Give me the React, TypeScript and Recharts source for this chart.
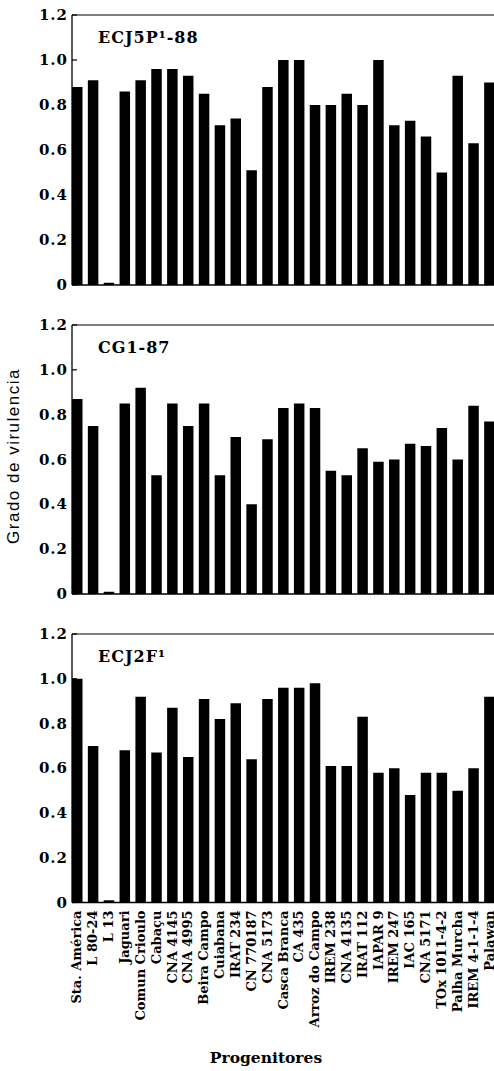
import { BarChart, Bar, XAxis, YAxis, ReferenceLine } from 'recharts';

const categories = [
  'Sta. América', 'L 80-24', 'L 13', 'Jaguari', 'Comun Crioulo', 'Cabaçu', 'CNA 4145',
  'CNA 4995', 'Beira Campo', 'Cuiabana', 'IRAT 234', 'CN 770187', 'CNA 5173', 'Casca Branca',
  'CA 435', 'Arroz do Campo', 'IREM 238', 'CNA 4135', 'IRAT 112', 'IAPAR 9', 'IREM 247',
  'IAC 165', 'CNA 5171', 'TOx 1011-4-2', 'Palha Murcha', 'IREM 4-1-1-4', 'Palawan',
];

const ecj5p88 = [
  0.88, 0.91, 0.01, 0.86, 0.91, 0.96, 0.96, 0.93, 0.85, 0.71, 0.74, 0.51, 0.88, 1.0,
  1.0, 0.8, 0.8, 0.85, 0.8, 1.0, 0.71, 0.73, 0.66, 0.5, 0.93, 0.63, 0.9,
];

const cg187 = [
  0.87, 0.75, 0.01, 0.85, 0.92, 0.53, 0.85, 0.75, 0.85, 0.53, 0.7, 0.4, 0.69, 0.83,
  0.85, 0.83, 0.55, 0.53, 0.65, 0.59, 0.6, 0.67, 0.66, 0.74, 0.6, 0.84, 0.77,
];

const ecj2f = [
  1.0, 0.7, 0.01, 0.68, 0.92, 0.67, 0.87, 0.65, 0.91, 0.82, 0.89, 0.64, 0.91, 0.96,
  0.96, 0.98, 0.61, 0.61, 0.83, 0.58, 0.6, 0.48, 0.58, 0.58, 0.5, 0.6, 0.92,
];

const yTicks = [0, 0.2, 0.4, 0.6, 0.8, 1.0, 1.2];

const SERIF = '"DejaVu Serif", serif';

const YTick = (props: any) => {
  const { x, y, payload } = props;
  const v = payload.value;
  return (
    <g>
      <text x={x} y={y} textAnchor="end" dominantBaseline="central" fontFamily={SERIF}
        fontWeight="bold" fontSize={15} letterSpacing={1} fill="#000">
        {v === 0 ? '0' : v.toFixed(1)}
      </text>
      <line x1={x + 4} x2={x + 9} y1={y} y2={y} stroke="#000" strokeWidth={1.2} />
    </g>
  );
};

const CatTick = (props: any) => {
  const { x, y, payload } = props;
  return (
    <text x={x} y={y + 8} transform={`rotate(-90, ${x}, ${y + 8})`} textAnchor="end"
      dominantBaseline="central" fontFamily={SERIF} fontWeight="bold" fontSize={13} fill="#000">
      {payload.value}
    </text>
  );
};

const Panel = ({ values, title, top, plotHeight, showLabels }: any) => {
  const data = categories.map((name, i) => ({ name, value: values[i] }));
  const xH = showLabels ? 140 : 14;
  return (
    <div style={{ position: 'absolute', left: 0, top: top - 10 }}>
      <BarChart width={497} height={10 + plotHeight + xH} data={data}
        margin={{ top: 10, right: 0, bottom: 0, left: 0 }} barSize={10.5}>
        <XAxis dataKey="name" interval={0} height={xH} tickLine={false} tickSize={0} tickMargin={0}
          stroke="#000" strokeWidth={1.3} padding={{ left: -3, right: 0 }}
          tick={showLabels ? CatTick : false} />
        <YAxis width={72} domain={[0, 1.2]} ticks={yTicks} interval={0} tickLine={false}
          tickSize={0} tickMargin={4} stroke="#000" strokeWidth={1.3} tick={YTick} />
        <ReferenceLine y={1.2} stroke="#000" strokeWidth={1.2} />
        <Bar dataKey="value" fill="#000" isAnimationActive={false} />
      </BarChart>
      <div style={{ position: 'absolute', left: 98, top: 25, fontFamily: SERIF, fontSize: 16,
        fontWeight: 'bold', lineHeight: '16px', letterSpacing: 1, whiteSpace: 'nowrap', color: '#000' }}>
        {title}
      </div>
    </div>
  );
};

export default function App() {
  return (
    <div style={{ position: 'absolute', left: 0, top: 0, width: 494, height: 1071,
      overflow: 'hidden', background: '#fff' }}>
      <Panel values={ecj5p88} title="ECJ5P¹-88" top={15} plotHeight={270} showLabels={false} />
      <Panel values={cg187} title="CG1-87" top={324.5} plotHeight={269} showLabels={false} />
      <Panel values={ecj2f} title="ECJ2F¹" top={633.5} plotHeight={268.5} showLabels />
      <div style={{ position: 'absolute', left: 14, top: 456, transform: 'translate(-50%, -50%) rotate(-90deg)',
        fontFamily: '"Liberation Sans", Arial, sans-serif', fontSize: 17, letterSpacing: 1.5,
        whiteSpace: 'nowrap', color: '#000' }}>
        Grado de virulencia
      </div>
      <div style={{ position: 'absolute', left: 266, top: 1049.5, transform: 'translateX(-50%)',
        fontFamily: SERIF, fontSize: 15.5, fontWeight: 'bold', lineHeight: '16px', whiteSpace: 'nowrap', color: '#000' }}>
        Progenitores
      </div>
    </div>
  );
}
